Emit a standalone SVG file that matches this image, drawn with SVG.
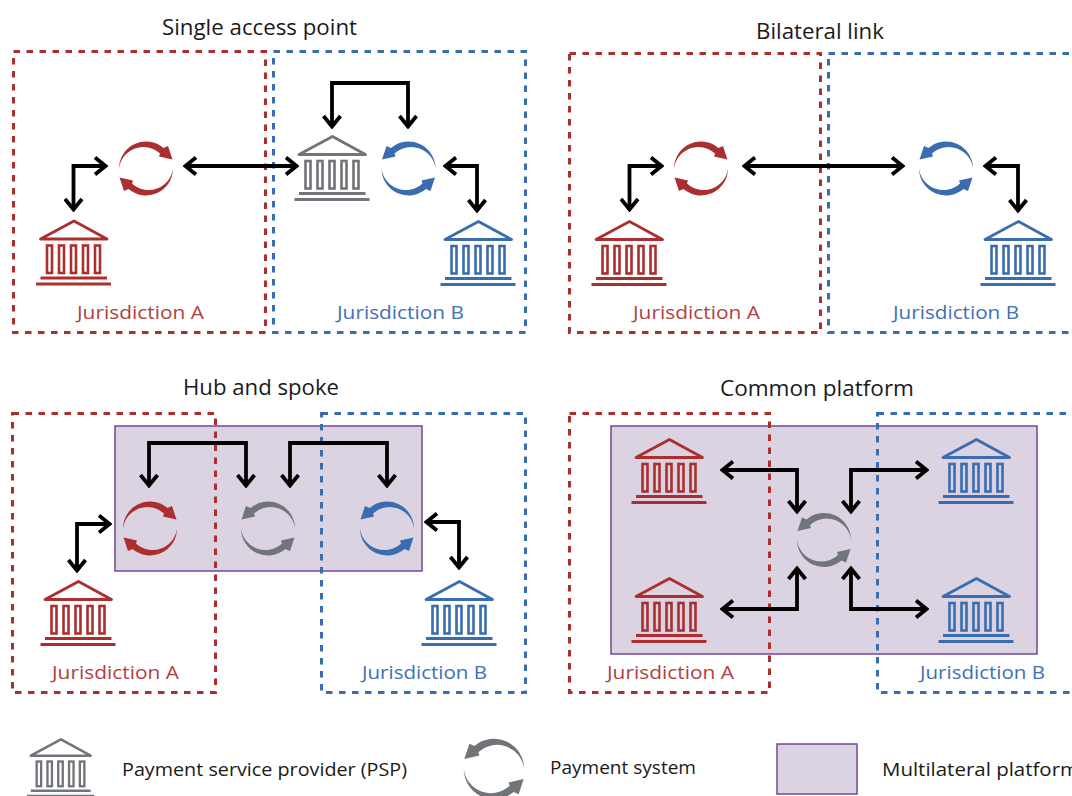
<svg xmlns="http://www.w3.org/2000/svg" width="1072" height="796" viewBox="0 0 1072 796">
<style>
text{font-family:"Open Sans","Noto Sans","Liberation Sans",sans-serif}
.t{font-size:22.5px;fill:#1a1a1a;text-anchor:start}
.j{font-size:18.5px}
.l{font-size:18px;fill:#1a1a1a}
.ra{fill:#b23f3f}.ba{fill:#3f71b3}
.dr,.db{fill:none;stroke-width:3;stroke-dasharray:6.500 6.500}
.dr{stroke:#ab2f2f}.db{stroke:#3a6db0}
.pf{fill:#dbd2e2;stroke:#74479a;stroke-width:1.5}
.a{fill:none;stroke:#000;stroke-width:3.800;stroke-linejoin:miter;marker-start:url(#h);marker-end:url(#h)}
.red{color:#ab2f2f}.blue{color:#3a6db0}.gray{color:#717479}
</style>
<defs>
<marker id="h" viewBox="-14 -10 16 20" refX="0" refY="0" markerUnits="userSpaceOnUse" markerWidth="16" markerHeight="20" orient="auto-start-reverse">
<path d="M-11,-8.500 L-0.500,0 L-11,8.500" fill="none" stroke="#000" stroke-width="3.800"/>
</marker>
<g id="bank" fill="none" stroke="currentColor">
<path d="M-33,18.500 L0.500,0.500 L33.500,18.500 Z" stroke-width="2.800" stroke-linejoin="round"/>
<g stroke-width="2.600">
<rect x="-26.500" y="25" width="5" height="27.500"/>
<rect x="-14.500" y="25" width="5" height="27.500"/>
<rect x="-2.500" y="25" width="5" height="27.500"/>
<rect x="9.500" y="25" width="5" height="27.500"/>
<rect x="21.500" y="25" width="5" height="27.500"/>
</g>
<path d="M-33,57.500 H33.500" stroke-width="2.800"/>
<path d="M-37.500,63.500 H37.500" stroke-width="3"/>
</g>
<g id="cw" fill="currentColor">
<path d="M-27,0 A27,27 0 0 1 17.500,-20.500 L22,-22.500 L26.500,-9 L13,-12 L14,-15 A24.500,24.500 0 0 0 -27,0 Z"/>
<path d="M27,0 A27,27 0 0 1 -17.500,20.500 L-22,22.500 L-26.500,9 L-13,12 L-14,15 A24.500,24.500 0 0 0 27,0 Z"/>
</g>
<g id="ccw"><use href="#cw" transform="scale(-1,1)"/></g>
</defs>

<g id="titles">
<text class="t" x="162" y="35" textLength="195" lengthAdjust="spacingAndGlyphs">Single access point</text>
<text class="t" x="756" y="39" textLength="128" lengthAdjust="spacingAndGlyphs">Bilateral link</text>
<text class="t" x="183" y="395" textLength="156" lengthAdjust="spacingAndGlyphs">Hub and spoke</text>
<text class="t" x="720" y="396" textLength="194" lengthAdjust="spacingAndGlyphs">Common platform</text>
</g>

<g id="platforms">
<rect id="platform-hub" class="pf" x="115" y="426" width="307" height="145"/>
<rect id="platform-common" class="pf" x="611" y="426" width="426" height="228"/>
<rect id="platform-legend" class="pf" x="777" y="744" width="80" height="50"/>
</g>

<g id="jurisdictions">
<rect id="p1-a" class="dr" x="13.500" y="51.500" width="252" height="281"/>
<rect id="p1-b" class="db" x="273.500" y="51.500" width="252" height="281"/>
<rect id="p2-a" class="dr" x="569.500" y="53.500" width="251" height="279"/>
<rect id="p2-b" class="db" x="828.500" y="53.500" width="260" height="279"/>
<rect id="p3-a" class="dr" x="12.500" y="413.500" width="203" height="279"/>
<rect id="p3-b" class="db" x="321.500" y="413.500" width="204" height="279"/>
<rect id="p4-a" class="dr" x="569.500" y="413.500" width="200" height="279"/>
<rect id="p4-b" class="db" x="877.500" y="413.500" width="210" height="279"/>
</g>

<g id="labels">
<text class="j ra" x="77" y="318.500" textLength="127" lengthAdjust="spacingAndGlyphs">Jurisdiction A</text>
<text class="j ba" x="337" y="318.500" textLength="127" lengthAdjust="spacingAndGlyphs">Jurisdiction B</text>
<text class="j ra" x="633" y="318.500" textLength="127" lengthAdjust="spacingAndGlyphs">Jurisdiction A</text>
<text class="j ba" x="893" y="318.500" textLength="126" lengthAdjust="spacingAndGlyphs">Jurisdiction B</text>
<text class="j ra" x="52" y="678.500" textLength="127" lengthAdjust="spacingAndGlyphs">Jurisdiction A</text>
<text class="j ba" x="362" y="678.500" textLength="125" lengthAdjust="spacingAndGlyphs">Jurisdiction B</text>
<text class="j ra" x="607" y="678.500" textLength="127" lengthAdjust="spacingAndGlyphs">Jurisdiction A</text>
<text class="j ba" x="920" y="678.500" textLength="125" lengthAdjust="spacingAndGlyphs">Jurisdiction B</text>
</g>

<g id="connectors">
<path class="a" d="M73.500,210 V166 H106"/>
<path class="a" d="M185,166 H297"/>
<path class="a" d="M332,127 V83 H408 V127"/>
<path class="a" d="M445,166 H477 V211"/>
<path class="a" d="M629.500,210 V166 H662"/>
<path class="a" d="M744,166 H903"/>
<path class="a" d="M985,166 H1018 V211"/>
<path class="a" d="M77,571 V524 H110"/>
<path class="a" d="M149,486 V443 H246 V486"/>
<path class="a" d="M290,486 V443 H387 V486"/>
<path class="a" d="M426,522 H459 V568"/>
<path class="a" d="M722,470 H797 V512"/>
<path class="a" d="M927,470 H851 V512"/>
<path class="a" d="M722,609 H797 V568"/>
<path class="a" d="M927,609 H851 V568"/>
</g>

<g id="p1-bank-a" class="red"><use href="#bank" x="73.500" y="220.500"/></g>
<g id="p1-sys-a" class="red"><use href="#cw" x="146" y="168.500"/></g>
<g id="p1-psp" class="gray"><use href="#bank" x="332" y="136"/></g>
<g id="p1-sys-b" class="blue"><use href="#ccw" x="408.500" y="168.500"/></g>
<g id="p1-bank-b" class="blue"><use href="#bank" x="478" y="221"/></g>

<g id="p2-bank-a" class="red"><use href="#bank" x="629" y="221"/></g>
<g id="p2-sys-a" class="red"><use href="#cw" x="701" y="168.500"/></g>
<g id="p2-sys-b" class="blue"><use href="#ccw" x="946" y="168.500"/></g>
<g id="p2-bank-b" class="blue"><use href="#bank" x="1018" y="221"/></g>

<g id="p3-bank-a" class="red"><use href="#bank" x="78" y="581"/></g>
<g id="p3-sys-a" class="red"><use href="#cw" x="150" y="528.500"/></g>
<g id="p3-hub" class="gray"><use href="#ccw" x="268" y="528.500"/></g>
<g id="p3-sys-b" class="blue"><use href="#ccw" x="387" y="528.500"/></g>
<g id="p3-bank-b" class="blue"><use href="#bank" x="459" y="581"/></g>

<g id="p4-bank-a1" class="red"><use href="#bank" x="669" y="439"/></g>
<g id="p4-bank-a2" class="red"><use href="#bank" x="669" y="578"/></g>
<g id="p4-sys" class="gray"><use href="#ccw" x="824" y="540"/></g>
<g id="p4-bank-b1" class="blue"><use href="#bank" x="976" y="439"/></g>
<g id="p4-bank-b2" class="blue"><use href="#bank" x="976" y="578"/></g>

<g id="legend-psp" class="gray"><use href="#bank" transform="translate(60.500,739) scale(.9)"/></g>
<g id="legend-sys" class="gray"><use href="#ccw" transform="translate(494,769) scale(1.12)"/></g>
<g id="legend-text">
<text class="l" x="122" y="776" textLength="285" lengthAdjust="spacingAndGlyphs">Payment service provider (PSP)</text>
<text class="l" x="550" y="774" textLength="146" lengthAdjust="spacingAndGlyphs">Payment system</text>
<text class="l" x="882" y="776" textLength="197" lengthAdjust="spacingAndGlyphs">Multilateral platform</text>
</g>
</svg>
